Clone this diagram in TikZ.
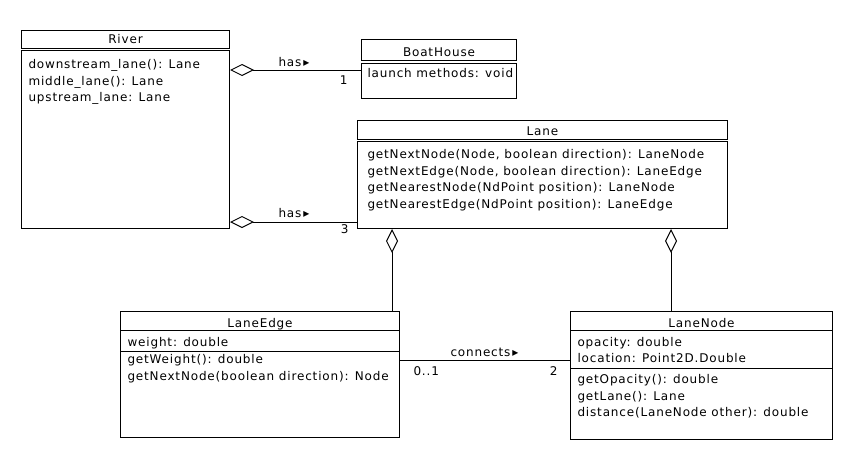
\documentclass[tikz,border=0pt]{standalone}
\usepackage{fontspec}
\setmainfont{DejaVu Sans}[LetterSpace=7]
\usetikzlibrary{calc, arrows.meta}

\begin{document}
\begin{tikzpicture}[x=1pt, y=-1pt, line width=1pt,
    font=\fontsize{12}{14}\selectfont,
    cls/.style={draw, anchor=north west, inner sep=0pt},
    txt/.style={anchor=base west, inner sep=0pt},
    ttl/.style={anchor=base, inner sep=0pt},
    sep/.style={double, double distance=1.3pt},
    agg/.style={{Diamond[open, length=24pt, width=12pt]}-}]
  \useasboundingbox (0,0) rectangle (850,460);
  % class boxes
  \node[cls, minimum width=208pt, minimum height=198pt] (river) at (21,30) {};
  \node[cls, minimum width=155pt, minimum height=59pt] (boat) at (361,39) {};
  \node[cls, minimum width=370pt, minimum height=108pt] (lane) at (357,120) {};
  \node[cls, minimum width=279pt, minimum height=126pt] (edge) at (120,311) {};
  \node[cls, minimum width=262pt, minimum height=128pt] (lnode) at (570,311) {};
  % titles
  \node[ttl] (riverT) at ($(river.north)+(0,13.5)$) {River};
  \node[ttl] (boatT) at ($(boat.north)+(0,17.5)$) {BoatHouse};
  \node[ttl] (laneT) at ($(lane.north)+(0,15.5)$) {Lane};
  \node[ttl] (edgeT) at ($(edge.north)+(0,16)$) {LaneEdge};
  \node[ttl] (lnodeT) at ($(lnode.north)+(0,16.5)$) {LaneNode};
  \draw[sep] ($(river.north west)+(0,19.5)$) -- ($(river.north east)+(0,19.5)$);
  \draw[sep] ($(boat.north west)+(0,23)$) -- ($(boat.north east)+(0,23)$);
  \draw[sep] ($(lane.north west)+(0,20.5)$) -- ($(lane.north east)+(0,20.5)$);
  \draw ($(edge.north west)+(0,19.5)$) -- ($(edge.north east)+(0,19.5)$);
  \draw ($(edge.north west)+(0,40)$) -- ($(edge.north east)+(0,40)$);
  \draw ($(lnode.north west)+(0,19.5)$) -- ($(lnode.north east)+(0,19.5)$);
  \draw ($(lnode.north west)+(0,57)$) -- ($(lnode.north east)+(0,57)$);
  % members
  \foreach \t [count=\i] in {downstream\_lane(): Lane, middle\_lane(): Lane, upstream\_lane: Lane}
    \node[txt] (river-\i) at (28, 51.6+16.7*\i) {\t};
  \node[txt] (boat-1) at (367,77) {launch methods: void};
  \foreach \t [count=\i] in {{getNextNode(Node, boolean direction): LaneNode},
      {getNextEdge(Node, boolean direction): LaneEdge},
      {getNearestNode(NdPoint position): LaneNode},
      {getNearestEdge(NdPoint position): LaneEdge}}
    \node[txt] (lane-\i) at (367, 141.6+16.7*\i) {\t};
  \node[txt] (edge-a) at (127,346) {weight: double};
  \foreach \t [count=\i] in {getWeight(): double, getNextNode(boolean direction): Node}
    \node[txt] (edge-\i) at (127, 346.6+16.7*\i) {\t};
  \foreach \t [count=\i] in {opacity: double, location: Point2D.Double}
    \node[txt] (lnode-a\i) at (577, 329.3+16.8*\i) {\t};
  \foreach \t [count=\i] in {getOpacity(): double, getLane(): Lane, distance(LaneNode other): double}
    \node[txt] (lnode-\i) at (577, 366.6+16.7*\i) {\t};
  % connectors
  \coordinate (bh) at ($(boat.north west)+(0,31)$);
  \coordinate (ln) at ($(lane.south west)+(0,-7)$);
  \coordinate (le) at ($(edge.north east)+(-8,0)$);
  \coordinate (lnd) at ($(lnode.north west)+(101,0)$);
  \coordinate (cn) at ($(lnode.north west)+(0,49)$);
  \draw[agg] (river.east |- bh) -- (bh);
  \draw[agg] (river.east |- ln) -- (ln);
  \draw[agg] (lane.south -| le) -- (le);
  \draw[agg] (lane.south -| lnd) -- (lnd);
  \draw (edge.east |- cn) -- (cn);
  % labels
  \node[txt] (has1) at (278,66.5) {has\,▸};
  \node[anchor=base east, inner sep=0pt] (m1) at (348,84.5) {1};
  \node[txt] (has3) at (278,217) {has\,▸};
  \node[anchor=base east, inner sep=0pt] (m3) at (349,233) {3};
  \node[txt] (conn) at (450,356.5) {connects\,▸};
  \node[txt] (m01) at (413,375) {0..1};
  \node[anchor=base east, inner sep=0pt] (m2) at (558,375) {2};
\end{tikzpicture}
\end{document}
